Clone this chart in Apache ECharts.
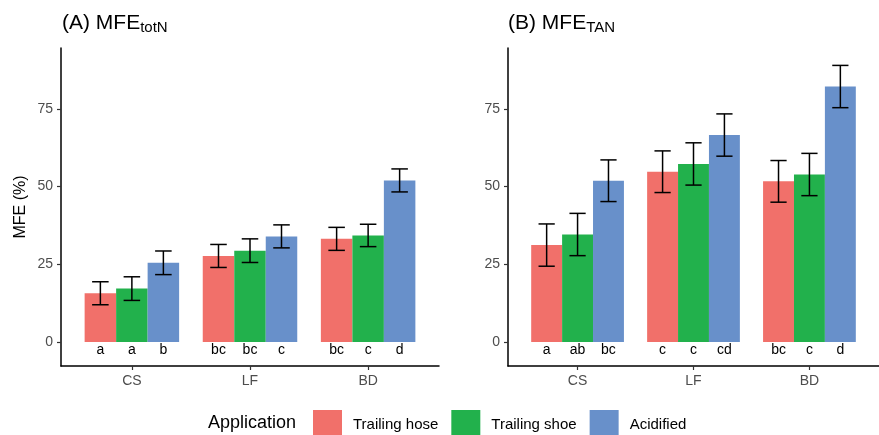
<!DOCTYPE html>
<html>
<head>
<meta charset="utf-8">
<script src="https://cdn.jsdelivr.net/npm/echarts@6/dist/echarts.min.js"></script>
<style>
  html, body { margin: 0; padding: 0; background: #fff; }
  #main { width: 879px; height: 435px; }
</style>
</head>
<body>
<div id="main"></div>
<script>
// categories and groups
const categories = ['CS', 'LF', 'BD']
const applications = ['Trailing hose', 'Trailing shoe', 'Acidified']
const colors = ['#F1706A', '#22B14C', '#6890CA']
const yTicks = [0, 25, 50, 75]

// (A) MFE totN, mean and error
const totN_hose = [15.7, 27.7, 33.2]
const totN_hose_err = [3.7, 3.7, 3.7]
const totN_shoe = [17.2, 29.4, 34.3]
const totN_shoe_err = [3.8, 3.8, 3.6]
const totN_acid = [25.5, 34.0, 52.0]
const totN_acid_err = [3.8, 3.7, 3.7]
const totN_letters_hose = ['a', 'bc', 'bc']
const totN_letters_shoe = ['a', 'bc', 'c']
const totN_letters_acid = ['b', 'c', 'd']

// (B) MFE TAN, mean and error
const tan_hose = [31.2, 54.8, 51.7]
const tan_hose_err = [6.8, 6.7, 6.7]
const tan_shoe = [34.6, 57.3, 53.9]
const tan_shoe_err = [6.8, 6.8, 6.8]
const tan_acid = [51.9, 66.6, 82.2]
const tan_acid_err = [6.7, 6.8, 6.8]
const tan_letters_hose = ['a', 'c', 'bc']
const tan_letters_shoe = ['ab', 'c', 'c']
const tan_letters_acid = ['bc', 'cd', 'd']

const dodge = 0.8
const capHalf = 0.07
const letterY = -2.6
const font = 'Liberation Sans, Arial, sans-serif'

function makeSeries (panel, s, means, errs, letters) {
  return {
    type: 'custom',
    name: applications[s],
    xAxisIndex: panel,
    yAxisIndex: panel,
    itemStyle: { color: colors[s] },
    clip: false,
    data: means.map((m, i) => [i + 1, m, errs[i]]),
    renderItem: function (params, api) {
      var cat = api.value(0)
      var mean = api.value(1)
      var err = api.value(2)
      var w = dodge / 3
      var center = cat - dodge / 2 + w * (s + 0.5)
      var p0 = api.coord([center - w / 2, mean])
      var p1 = api.coord([center + w / 2, 0])
      var top = api.coord([center, mean + err])
      var bot = api.coord([center, mean - err])
      var cl = api.coord([center - capHalf, 0])[0]
      var cr = api.coord([center + capHalf, 0])[0]
      var lt = api.coord([center, letterY])
      var lineStyle = { stroke: '#000', lineWidth: 1.5 }
      return {
        type: 'group',
        children: [
          { type: 'rect', shape: { x: p0[0], y: p0[1], width: p1[0] - p0[0], height: p1[1] - p0[1] }, style: { fill: colors[s] } },
          { type: 'line', shape: { x1: top[0], y1: top[1], x2: bot[0], y2: bot[1] }, style: lineStyle },
          { type: 'line', shape: { x1: cl, y1: top[1], x2: cr, y2: top[1] }, style: lineStyle },
          { type: 'line', shape: { x1: cl, y1: bot[1], x2: cr, y2: bot[1] }, style: lineStyle },
          { type: 'text', x: lt[0], y: lt[1], style: { text: letters[params.dataIndex], fill: '#000', font: '14px ' + font, align: 'center', verticalAlign: 'middle' } }
        ]
      }
    }
  }
}

function makeX (idx) {
  return {
    type: 'value', gridIndex: idx, min: 0.4, max: 3.6,
    splitLine: { show: false },
    axisLine: { onZero: false, lineStyle: { color: '#000', width: 1.5 } },
    axisTick: { show: true, length: 4, lineStyle: { color: '#333', width: 1.2 }, customValues: [1, 2, 3] },
    axisLabel: {
      color: '#4D4D4D', fontSize: 14, fontFamily: font, margin: 8,
      customValues: [1, 2, 3],
      formatter: function (v) { return categories[Math.round(v) - 1] }
    }
  }
}

function makeY (idx, withName) {
  return {
    type: 'value', gridIndex: idx, min: -7.7, max: 94.6,
    name: withName ? 'MFE (%)' : '',
    nameLocation: 'middle', nameGap: 32,
    nameTextStyle: { color: '#000', fontSize: 16, fontFamily: font },
    splitLine: { show: false },
    axisLine: { show: true, onZero: false, lineStyle: { color: '#000', width: 1.5 } },
    axisTick: { show: true, length: 4, lineStyle: { color: '#333', width: 1.2 }, customValues: yTicks },
    axisLabel: { color: '#4D4D4D', fontSize: 14, fontFamily: font, margin: 8, customValues: yTicks }
  }
}

var chart = echarts.init(document.getElementById('main'))
var option = {
  animation: false,
  backgroundColor: '#fff',
  grid: [
    { left: 61, right: 440, top: 48, bottom: 69 },
    { left: 508, right: -5, top: 48, bottom: 69 }
  ],
  xAxis: [makeX(0), makeX(1)],
  yAxis: [makeY(0, true), makeY(1, false)],
  legend: {
    data: applications,
    left: 313, top: 410,
    padding: 0,
    icon: 'rect',
    itemWidth: 29, itemHeight: 29, itemGap: 13,
    textStyle: { color: '#000', fontSize: 15, fontFamily: font, padding: [0, 0, 0, 6] }
  },
  graphic: [
    {
      type: 'text', left: 62, top: 13,
      style: {
        text: '{a|(A) MFE}{s|totN}',
        rich: {
          a: { fontSize: 21, lineHeight: 24, fontFamily: font, fill: '#000' },
          s: { fontSize: 15, lineHeight: 14, fontFamily: font, fill: '#000', verticalAlign: 'bottom' }
        }
      }
    },
    {
      type: 'text', left: 508, top: 13,
      style: {
        text: '{a|(B) MFE}{s|TAN}',
        rich: {
          a: { fontSize: 21, lineHeight: 24, fontFamily: font, fill: '#000' },
          s: { fontSize: 15, lineHeight: 14, fontFamily: font, fill: '#000', verticalAlign: 'bottom' }
        }
      }
    },
    {
      type: 'text', left: 208, top: 414,
      style: { text: 'Application', fontSize: 18, fontFamily: font, fill: '#000' }
    }
  ],
  series: [
    makeSeries(0, 0, totN_hose, totN_hose_err, totN_letters_hose),
    makeSeries(0, 1, totN_shoe, totN_shoe_err, totN_letters_shoe),
    makeSeries(0, 2, totN_acid, totN_acid_err, totN_letters_acid),
    makeSeries(1, 0, tan_hose, tan_hose_err, tan_letters_hose),
    makeSeries(1, 1, tan_shoe, tan_shoe_err, tan_letters_shoe),
    makeSeries(1, 2, tan_acid, tan_acid_err, tan_letters_acid)
  ]
}
chart.setOption(option)
</script>
</body>
</html>
